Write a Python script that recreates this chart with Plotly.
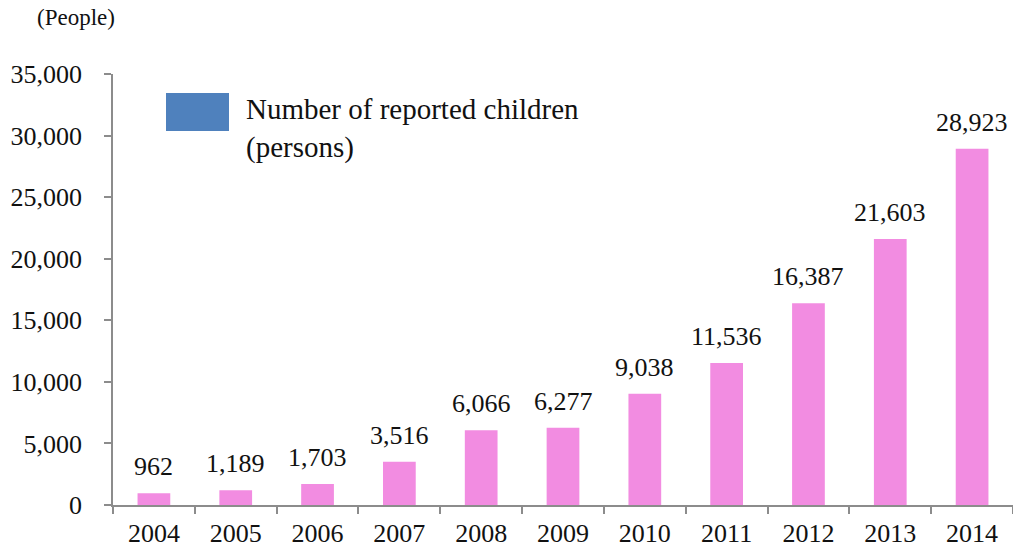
import plotly.graph_objects as go

years = ["2004", "2005", "2006", "2007", "2008", "2009", "2010", "2011", "2012", "2013", "2014"]
counts = [962, 1189, 1703, 3516, 6066, 6277, 9038, 11536, 16387, 21603, 28923]
series_name = "Number of reported children<br>(persons)"
unit_label = "(People)"

FONT = "Liberation Serif, Times New Roman, serif"
BAR = "#F28CE1"
AX = "#8C8C8C"

fig = go.Figure()
fig.add_trace(go.Bar(
    x=years, y=counts, width=0.4,
    marker=dict(color=BAR, line=dict(width=0)),
    showlegend=False, hoverinfo="x+y",
))

value_labels = [dict(x=i, y=v, xref="x", yref="y", text=f"{v:,}", showarrow=False,
                     xanchor="center", yanchor="bottom", yshift=10,
                     font=dict(family=FONT, size=26, color="#111"))
                for i, v in enumerate(counts)]

fig.update_layout(
    width=1013, height=550,
    margin=dict(l=113, r=0, t=74, b=45),
    paper_bgcolor="white", plot_bgcolor="white",
    font=dict(family=FONT, size=26, color="#111"),
    xaxis=dict(type="category", range=[-0.5, len(years) - 0.5], showline=True, linecolor=AX,
               linewidth=1.5, ticks="outside", tickson="boundaries", ticklen=7, tickcolor=AX,
               tickwidth=1.5, showgrid=False, tickfont=dict(family=FONT, size=26), tickangle=0,
               ticklabelstandoff=4),
    yaxis=dict(range=[0, 35000], dtick=5000, tickformat=",", showline=True, linecolor=AX,
               linewidth=1.5, ticks="outside", ticklen=7, tickcolor=AX, tickwidth=1.5,
               showgrid=False, zeroline=False, tickfont=dict(family=FONT, size=26),
               ticklabelstandoff=17),
    shapes=[dict(type="rect", xref="paper", yref="paper",
                 x0=(166-113)/900, x1=(229-113)/900, y0=(505-131)/431, y1=(505-93)/431,
                 fillcolor="#4F81BD", line=dict(width=0))],
    annotations=value_labels + [
        dict(text=series_name, xref="paper", yref="paper", x=(244-113)/900, y=(505-91)/431,
             xanchor="left", yanchor="top", align="left", showarrow=False,
             font=dict(family=FONT, size=29, color="#111")),
        dict(text=unit_label, xref="paper", yref="paper", x=(35-113)/900, y=(505-3)/431,
             xanchor="left", yanchor="top", showarrow=False,
             font=dict(family=FONT, size=23, color="#111")),
    ],
)

fig.write_html("out.html")
